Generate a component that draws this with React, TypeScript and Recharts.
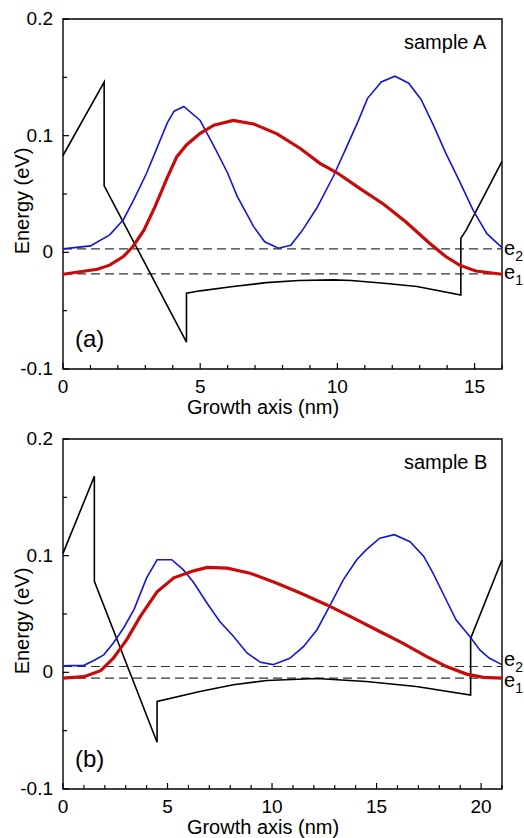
import React from 'react';
import { LineChart, Line, XAxis, YAxis, ReferenceLine, ReferenceArea } from 'recharts';

// sample A (growth axis in nm, energy in eV)
const potentialAX = [0, 1.5, 1.5, 4.5, 4.5, 5, 6.2, 7.4, 8.6, 9.85, 10.5, 11.7, 12.9, 14.5, 14.5, 14.7, 16];
const potentialAY = [0.083, 0.146, 0.057, -0.077, -0.035, -0.033, -0.0293, -0.026, -0.0242, -0.0236, -0.0242, -0.0265, -0.0293, -0.0365, 0.012, 0.0193, 0.078];

const e2AX = [0, 1, 1.7, 2.2, 2.6, 3.05, 3.4, 3.8, 4.05, 4.4, 5, 5.5, 6, 6.35, 6.95, 7.35, 7.85, 8.3, 8.7, 9.25, 9.85, 10.35, 10.75, 11.1, 11.6, 12.1, 12.6, 13.05, 13.5, 13.95, 14.45, 14.95, 15.45, 16];
const e2AY = [0.003, 0.0055, 0.015, 0.028, 0.046, 0.068, 0.088, 0.111, 0.121, 0.125, 0.113, 0.091, 0.068, 0.048, 0.022, 0.009, 0.0035, 0.006, 0.018, 0.038, 0.065, 0.091, 0.112, 0.132, 0.146, 0.151, 0.145, 0.131, 0.109, 0.085, 0.061, 0.036, 0.016, 0.004];

const e1AX = [0, 1.25, 1.7, 2.2, 2.55, 2.95, 3.35, 3.8, 4.15, 4.5, 5, 5.5, 6.2, 6.95, 7.8, 8.65, 9.35, 10, 10.8, 11.7, 12.5, 13.35, 13.95, 14.45, 15.05, 16];
const e1AY = [-0.0188, -0.0145, -0.011, -0.0036, 0.005, 0.019, 0.039, 0.064, 0.082, 0.092, 0.102, 0.109, 0.113, 0.11, 0.1016, 0.089, 0.0765, 0.068, 0.055, 0.041, 0.026, 0.008, -0.0036, -0.011, -0.016, -0.0188];

const levelsA = [0.003, -0.0185];

// sample B
const potentialBX = [0, 1.5, 1.5, 4.5, 4.5, 6.55, 8.15, 9.75, 12.15, 14.5, 16.9, 19.5, 19.5, 21];
const potentialBY = [0.102, 0.168, 0.078, -0.06, -0.025, -0.0165, -0.0107, -0.007, -0.0053, -0.0079, -0.0122, -0.0194, 0.029, 0.0965];

const e2BX = [0, 1, 1.45, 1.95, 2.4, 2.9, 3.4, 4, 4.5, 5.2, 5.75, 6.25, 6.9, 7.5, 8.15, 8.8, 9.45, 10.05, 10.85, 11.5, 12.15, 12.75, 13.4, 14.05, 14.5, 15.15, 15.85, 16.6, 17.25, 17.7, 18.25, 18.8, 19.45, 19.95, 20.4, 21];
const e2BY = [0.0055, 0.006, 0.01, 0.015, 0.025, 0.038, 0.054, 0.081, 0.0965, 0.0965, 0.088, 0.077, 0.059, 0.0436, 0.031, 0.0166, 0.0086, 0.0066, 0.012, 0.022, 0.0365, 0.0565, 0.079, 0.0965, 0.105, 0.115, 0.118, 0.112, 0.0996, 0.085, 0.065, 0.045, 0.031, 0.019, 0.012, 0.0066];

const e1BX = [0, 1, 1.8, 2.4, 3.05, 3.7, 4.5, 5.3, 6.25, 6.9, 7.85, 8.95, 10.2, 11.35, 12.6, 13.9, 15.15, 16.25, 17.4, 18.35, 19.3, 20.1, 21];
const e1BY = [-0.005, -0.0037, 0.0014, 0.012, 0.028, 0.048, 0.069, 0.081, 0.087, 0.09, 0.0893, 0.085, 0.0765, 0.068, 0.058, 0.0465, 0.035, 0.025, 0.0135, 0.0049, -0.0015, -0.0043, -0.005];

const levelsB = [0.005, -0.005];

const ticksXA = [0, 1, 2, 3, 4, 5, 6, 7, 8, 9, 10, 11, 12, 13, 14, 15, 16];
const ticksXB = [0, 1, 2, 3, 4, 5, 6, 7, 8, 9, 10, 11, 12, 13, 14, 15, 16, 17, 18, 19, 20, 21];
const ticksY = [-0.1, -0.05, 0, 0.05, 0.1, 0.15, 0.2];

const FONT = '"Liberation Sans", Arial, sans-serif';

const zip = (xs: number[], ys: number[]) => xs.map((x, i) => ({ x, y: ys[i] }));

// ticks point inward, labels only on the round values
const XTick = (props: any) => {
  const { x, y, payload } = props;
  const major = payload.value % 5 === 0;
  return (
    <g>
      <line x1={x} x2={x} y1={y} y2={y - (major ? 6 : 4)} stroke="#000" strokeWidth={1.2} />
      {major && (
        <text x={x} y={y + 24} textAnchor="middle" fontSize={19} fontFamily={FONT} fill="#000">
          {payload.value}
        </text>
      )}
    </g>
  );
};

const YTick = (props: any) => {
  const { x, y, payload } = props;
  const v = payload.value;
  const major = Math.abs(v * 10 - Math.round(v * 10)) < 1e-6;
  return (
    <g>
      <line x1={x} x2={x + (major ? 6 : 4)} y1={y} y2={y} stroke="#000" strokeWidth={1.2} />
      {major && (
        <text x={x - 10} y={y + 6} textAnchor="end" fontSize={19} fontFamily={FONT} fill="#000">
          {v === 0 ? '0' : v.toFixed(1)}
        </text>
      )}
    </g>
  );
};

type PanelProps = {
  xMax: number;
  xTicks: number[];
  potential: { x: number; y: number }[];
  e2: { x: number; y: number }[];
  e1: { x: number; y: number }[];
  levels: number[];
  height: number;
};

function Panel({ xMax, xTicks, potential, e2, e1, levels, height }: PanelProps) {
  return (
    <LineChart width={524} height={height} margin={{ top: 19, right: 22, left: 62, bottom: height - 370 }}>
      <XAxis
        type="number"
        dataKey="x"
        domain={[0, xMax]}
        ticks={xTicks}
        interval={0}
        height={1}
        axisLine={false}
        tickLine={false}
        tickSize={0}
        tickMargin={0}
        tick={<XTick />}
      />
      <YAxis
        type="number"
        dataKey="y"
        domain={[-0.1, 0.2]}
        ticks={ticksY}
        interval={0}
        width={1}
        axisLine={false}
        tickLine={false}
        tickSize={0}
        tickMargin={0}
        tick={<YTick />}
        allowDataOverflow
      />
      <ReferenceArea x1={0} x2={xMax} y1={-0.1} y2={0.2} fill="none" stroke="#000" strokeWidth={1.4} />
      {levels.map((lv) => (
        <ReferenceLine key={lv} y={lv} stroke="#333" strokeWidth={1.2} strokeDasharray="9 5" />
      ))}
      <Line data={potential} dataKey="y" type="linear" stroke="#000" strokeWidth={1.6} dot={false} isAnimationActive={false} />
      <Line data={e2} dataKey="y" type="linear" stroke="#1414e0" strokeWidth={1.6} dot={false} isAnimationActive={false} />
      <Line data={e1} dataKey="y" type="linear" stroke="#c80a0a" strokeWidth={3.2} dot={false} isAnimationActive={false} />
    </LineChart>
  );
}

function PanelText({ top, sample, tag }: { top: number; sample: string; tag: string }) {
  const t = (v: number) => top + v;
  return (
    <g fontFamily={FONT} fill="#000">
      <text x={404} y={t(49)} fontSize={20}>{sample}</text>
      <text x={75} y={t(347)} fontSize={24}>{tag}</text>
      <text x={263} y={t(414)} fontSize={20} textAnchor="middle">Growth axis (nm)</text>
      <text x={0} y={0} fontSize={20} textAnchor="middle" transform={`translate(29, ${t(201)}) rotate(-90)`}>
        Energy (eV)
      </text>
    </g>
  );
}

function LevelLabels({ y2, y1 }: { y2: number; y1: number }) {
  return (
    <g fontFamily={FONT} fill="#000">
      <text x={504} y={y2} fontSize={20}>
        e<tspan fontSize={14} dy={6}>2</tspan>
      </text>
      <text x={504} y={y1} fontSize={20}>
        e<tspan fontSize={14} dy={6}>1</tspan>
      </text>
    </g>
  );
}

export default function App() {
  return (
    <div style={{ position: 'absolute', left: 0, top: 0, width: 524, height: 838, background: '#fff' }}>
      <div style={{ position: 'absolute', left: 0, top: 0 }}>
        <Panel
          xMax={16}
          xTicks={ticksXA}
          potential={zip(potentialAX, potentialAY)}
          e2={zip(e2AX, e2AY)}
          e1={zip(e1AX, e1AY)}
          levels={levelsA}
          height={420}
        />
      </div>
      <div style={{ position: 'absolute', left: 0, top: 420 }}>
        <Panel
          xMax={21}
          xTicks={ticksXB}
          potential={zip(potentialBX, potentialBY)}
          e2={zip(e2BX, e2BY)}
          e1={zip(e1BX, e1BY)}
          levels={levelsB}
          height={418}
        />
      </div>
      <svg
        width={524}
        height={838}
        style={{ position: 'absolute', left: 0, top: 0, pointerEvents: 'none', overflow: 'visible' }}
      >
        <PanelText top={0} sample="sample A" tag="(a)" />
        <PanelText top={420} sample="sample B" tag="(b)" />
        <LevelLabels y2={255} y1={279} />
        <LevelLabels y2={666} y1={687} />
      </svg>
    </div>
  );
}
